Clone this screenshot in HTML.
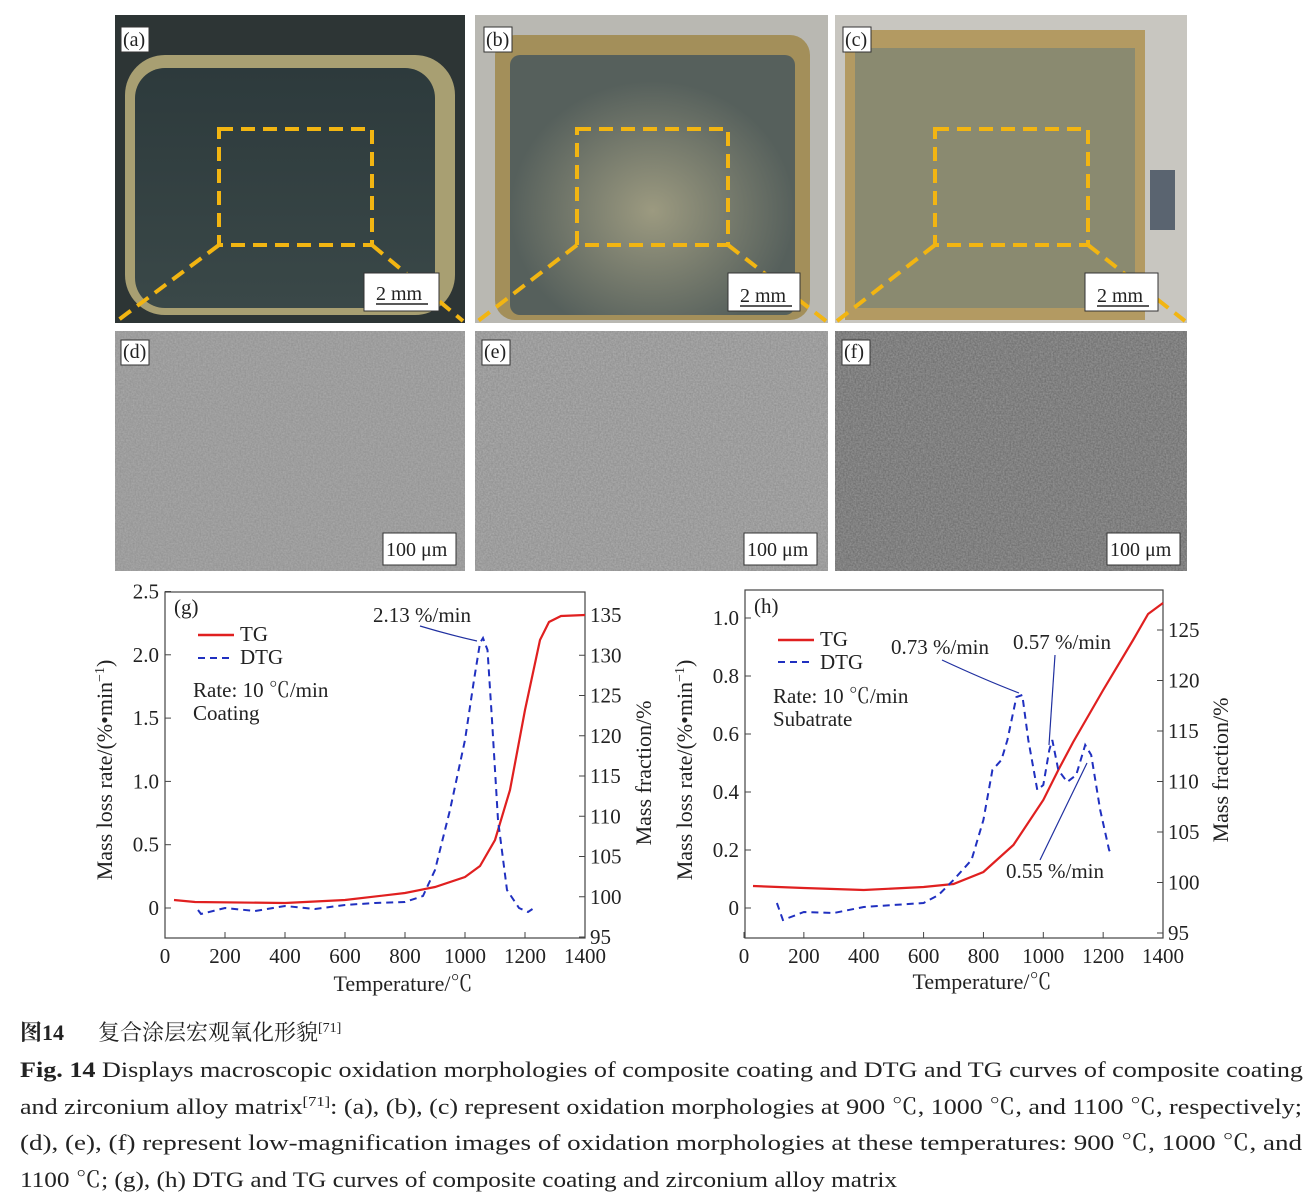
<!DOCTYPE html><html><head><meta charset="utf-8"><style>
body{margin:0;background:#fff;width:1315px;height:1198px;overflow:hidden}
svg text{font-family:"Liberation Serif","Noto Serif CJK SC",serif;fill:#222}
</style></head><body>
<svg id="s" width="1315" height="1198" xmlns="http://www.w3.org/2000/svg">
<defs>
<filter id="n1" x="0" y="0" width="100%" height="100%"><feTurbulence type="fractalNoise" baseFrequency="0.6" numOctaves="2" seed="3"/><feColorMatrix type="matrix" values="0 0 0 0 0.58 0 0 0 0 0.58 0 0 0 0 0.58 0.9 0 0 0 0"/></filter>
<linearGradient id="ga" x1="0" y1="0" x2="0" y2="1"><stop offset="0" stop-color="#2d3a3c"/><stop offset="1" stop-color="#3a4848"/></linearGradient>
<radialGradient id="gb" cx="0.5" cy="0.6" r="0.5"><stop offset="0" stop-color="#9c9a80"/><stop offset="1" stop-color="#56605c"/></radialGradient>
</defs>
<rect x="115" y="15" width="350" height="308" fill="#2d3535"/>
<rect x="125" y="55" width="330" height="260" rx="40" fill="#a89f72"/>
<rect x="135" y="68" width="300" height="240" rx="30" fill="url(#ga)"/>
<rect x="475" y="15" width="353" height="308" fill="#b9b8b2"/>
<rect x="495" y="35" width="315" height="285" rx="20" fill="#a38f5a"/>
<rect x="510" y="55" width="285" height="260" rx="10" fill="url(#gb)"/>
<rect x="835" y="15" width="352" height="308" fill="#c8c6c0"/>
<rect x="845" y="30" width="300" height="290" fill="#b39a62"/>
<rect x="855" y="48" width="280" height="260" fill="#8a8a70"/>
<rect x="1150" y="170" width="25" height="60" fill="#5a6470"/>
<g fill="none" stroke="#f2b512" stroke-width="4" stroke-dasharray="14,8">
<rect x="219" y="129" width="153" height="116"/><path d="M219 245 L117 321 M372 245 L463 321"/>
<rect x="577" y="129" width="151" height="116"/><path d="M577 245 L478 321 M728 245 L826 321"/>
<rect x="935" y="129" width="153" height="116"/><path d="M935 245 L837 321 M1088 245 L1185 321"/>
</g>
<g stroke="#333" fill="#fff" stroke-width="1">
<rect x="121" y="27" width="28" height="25"/><rect x="484" y="27" width="28" height="25"/><rect x="843" y="27" width="28" height="25"/>
<rect x="364" y="273" width="75" height="38"/><rect x="728" y="273" width="72" height="38"/><rect x="1085" y="273" width="73" height="38"/>
</g>
<g font-size="20"><text x="123" y="46">(a)</text><text x="486" y="46">(b)</text><text x="845" y="46">(c)</text>
<text x="376" y="300">2 mm</text><text x="740" y="302">2 mm</text><text x="1097" y="302">2 mm</text></g>
<g stroke="#222" stroke-width="1.5"><path d="M376 304h52M740 306h52M1097 306h52"/></g>
<rect x="115" y="331" width="350" height="240" fill="#8e8e8e"/>
<rect x="115" y="331" width="350" height="240" filter="url(#n1)" opacity="0.6"/>
<rect x="475" y="331" width="353" height="240" fill="#8a8a8a"/>
<rect x="475" y="331" width="353" height="240" filter="url(#n1)" opacity="0.7"/>
<rect x="835" y="331" width="352" height="240" fill="#666"/>
<rect x="835" y="331" width="352" height="240" filter="url(#n1)" opacity="0.6"/>
<g stroke="#333" fill="#fff"><rect x="121" y="340" width="28" height="25"/><rect x="482" y="340" width="28" height="25"/><rect x="842" y="340" width="28" height="25"/>
<rect x="383" y="533" width="73" height="32"/><rect x="744" y="533" width="73" height="32"/><rect x="1107" y="533" width="73" height="32"/></g>
<g font-size="20"><text x="123" y="358">(d)</text><text x="484" y="358">(e)</text><text x="844" y="358">(f)</text>
<text x="386" y="556">100 μm</text><text x="747" y="556">100 μm</text><text x="1110" y="556">100 μm</text></g>
<rect x="165" y="592" width="420" height="346" fill="none" stroke="#444" stroke-width="1.2"/>
<g id="ax"></g>
<g font-size="21">
<text x="174" y="614">(g)</text><text x="240" y="641">TG</text><text x="240" y="664">DTG</text>
<text x="193" y="697">Rate: 10 ℃/min</text><text x="193" y="720">Coating</text>
<text x="373" y="622">2.13 %/min</text>
<text x="754" y="613">(h)</text><text x="820" y="646">TG</text><text x="820" y="669">DTG</text>
<text x="773" y="703">Rate: 10 ℃/min</text><text x="773" y="726">Subatrate</text>
<text x="891" y="654">0.73 %/min</text><text x="1013" y="649">0.57 %/min</text><text x="1006" y="878">0.55 %/min</text>
<text x="403" y="991" text-anchor="middle" font-size="22">Temperature/℃</text>
<text x="982" y="989" text-anchor="middle" font-size="22">Temperature/℃</text>
<text transform="translate(112,770) rotate(-90)" text-anchor="middle" font-size="22">Mass loss rate/(%•min<tspan font-size="14" dy="-8">−1</tspan><tspan dy="8">)</tspan></text>
<text transform="translate(651,773) rotate(-90)" text-anchor="middle" font-size="22">Mass fraction/%</text>
<text transform="translate(692,770) rotate(-90)" text-anchor="middle" font-size="22">Mass loss rate/(%•min<tspan font-size="14" dy="-8">−1</tspan><tspan dy="8">)</tspan></text>
<text transform="translate(1228,770) rotate(-90)" text-anchor="middle" font-size="22">Mass fraction/%</text>
</g>
<path d="M198 635h36M778 640h36" stroke="#e02020" stroke-width="2.5"/>
<path d="M198 658h36M778 662h36" stroke="#2030c0" stroke-width="2" stroke-dasharray="7,5"/>
<g stroke="#2030a0" stroke-width="1.2" fill="none">
<path d="M420 626 Q450 635 477 641"/><path d="M942 660 Q985 680 1019 693"/><path d="M1055 655 L1049 745"/><path d="M1040 860 L1087 763"/>
</g>
<rect x="745" y="590" width="418" height="348" fill="none" stroke="#444" stroke-width="1.2"/>
<g id="dat"></g>
<g font-size="22">
<text x="20" y="1040" font-weight="bold">图14</text><text x="98" y="1040">复合涂层宏观氧化形貌<tspan font-size="14" dy="-8">[71]</tspan></text>
<text x="20" y="1077" textLength="1283" lengthAdjust="spacingAndGlyphs"><tspan font-weight="bold">Fig. 14</tspan>    Displays macroscopic oxidation morphologies of composite coating and DTG and TG curves of composite coating</text>
<text x="20" y="1114" textLength="1282" lengthAdjust="spacingAndGlyphs">and zirconium alloy matrix<tspan font-size="14" dy="-8">[71]</tspan><tspan dy="8">: (a), (b), (c) represent oxidation morphologies at 900 ℃, 1000 ℃, and 1100 ℃, respectively;</tspan></text>
<text x="20" y="1150" textLength="1282" lengthAdjust="spacingAndGlyphs">(d), (e), (f) represent low-magnification images of oxidation morphologies at these temperatures: 900 ℃, 1000 ℃, and</text>
<text x="20" y="1187" textLength="877" lengthAdjust="spacingAndGlyphs">1100 ℃; (g), (h) DTG and TG curves of composite coating and zirconium alloy matrix</text>
</g>
</svg>
<script>
var NS="http://www.w3.org/2000/svg",ax=document.getElementById('ax'),dat=document.getElementById('dat');
function el(p,t,a,txt){var e=document.createElementNS(NS,t);for(var k in a)e.setAttribute(k,a[k]);if(txt!=null)e.textContent=txt;p.appendChild(e);return e;}
function axes(x0,sx,yb,left,right,xl,yr){
 for(var T=0;T<=1400;T+=200){var x=x0+T*sx;el(ax,'line',{x1:x,x2:x,y1:yb,y2:yb-6,stroke:'#444'});el(ax,'text',{x:x,y:yb+25,'text-anchor':'middle','font-size':21},T);}
 left.forEach(function(v){el(ax,'line',{x1:xl,x2:xl+6,y1:v[1],y2:v[1],stroke:'#444'});el(ax,'text',{x:xl-6,y:v[1]+7,'text-anchor':'end','font-size':21},v[0]);});
 right.forEach(function(v){el(ax,'line',{x1:yr,x2:yr-6,y1:v[1],y2:v[1],stroke:'#444'});el(ax,'text',{x:yr+5,y:v[1]+7,'font-size':21},v[0]);});
}
var L=[],R=[];
['0','0.5','1.0','1.5','2.0','2.5'].forEach(function(s,i){L.push([s,908-i*63.3]);});
for(var v=95;v<=135;v+=5)R.push([v,937-(v-95)*8.05]);
axes(165,0.3,938,L,R,165,585);
L=[];R=[];
['0','0.2','0.4','0.6','0.8','1.0'].forEach(function(s,i){L.push([s,908-i*58]);});
for(var v=95;v<=125;v+=5)R.push([v,933-(v-95)*10.1]);
axes(744,0.2993,938,L,R,745,1163);
function line(pts,x0,sx,c,d){var s=pts.map(function(p){return (x0+p[0]*sx).toFixed(1)+','+p[1]}).join(' ');var a={points:s,fill:'none',stroke:c,'stroke-width':d?2:2.2};if(d)a['stroke-dasharray']='7,5';el(dat,'polyline',a);}
line([[30,900],[100,902],[400,903],[600,900],[800,893],[900,887],[1000,877],[1050,866],[1100,840],[1150,790],[1200,710],[1250,640],[1280,622],[1320,616],[1400,615]],165,0.3,'#e02020');
line([[110,910],[120,914],[200,908],[300,911],[400,906],[500,909],[600,905],[700,903],[800,902],[860,896],[900,870],[950,810],[1000,740],[1030,680],[1050,643],[1060,638],[1075,650],[1090,720],[1110,820],[1140,890],[1180,908],[1210,912],[1225,909]],165,0.3,'#2030c0',1);
line([[30,886],[200,888],[400,890],[600,887],[700,884],[800,872],[900,845],[1000,800],[1050,770],[1100,742],[1200,690],[1300,640],[1350,614],[1400,603]],744,0.2993,'#e02020');
line([[110,903],[130,920],[200,912],[300,913],[400,907],[500,905],[600,903],[650,895],[700,880],[760,860],[800,820],[830,770],[860,760],[880,740],[910,697],[930,695],[950,740],[980,790],[1000,785],[1020,750],[1030,740],[1050,770],[1080,782],[1110,775],[1140,745],[1160,755],[1190,810],[1220,850],[1230,855]],744,0.2993,'#2030c0',1);
</script>
</body></html>
